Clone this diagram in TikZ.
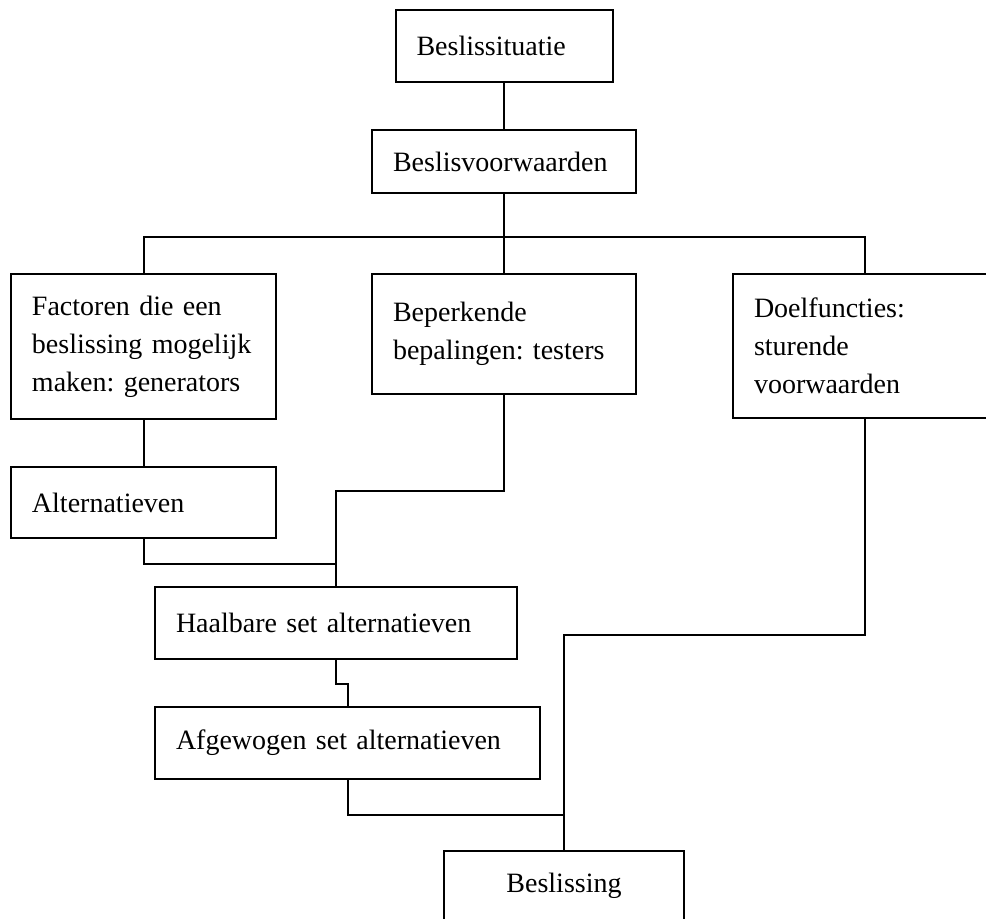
\documentclass[tikz,border=0pt]{standalone}
\usepackage{fontspec}
\setmainfont{Liberation Serif}
\begin{document}
\begin{tikzpicture}[x=0.5pt,y=-0.5pt,
    blok/.style={draw,line width=1pt,anchor=north west,align=left,
      inner xsep=10.5pt,inner ysep=0pt,font=\fontsize{14}{19}\selectfont\frenchspacing},
    lijn/.style={line width=1pt}]
    \useasboundingbox (0,0) rectangle (986,918);

    % Top boxes
    \node[blok,text width=87.5pt,minimum height=36pt] (sit) at (394.5,9) {Beslissituatie};
    \node[blok,text width=111pt,minimum height=31.5pt] (vw) at (371,129) {Beslisvoorwaarden};

    % Conditions
    \node[blok,text width=111.5pt,minimum height=72.5pt] (gen) at (10,273)
        {Factoren die een\\beslissing mogelijk\\maken: generators};
    \node[blok,text width=111pt,minimum height=60pt] (test) at (371,273)
        {Beperkende\\bepalingen: testers};
    \node[blok,text width=111pt,minimum height=72pt] (doel) at (732,273)
        {Doelfuncties:\\sturende\\voorwaarden};

    % Alternatives
    \node[blok,text width=111.5pt,minimum height=35.5pt] (alt) at (10,466) {Alternatieven};
    \node[blok,text width=160pt,minimum height=36pt] (haal) at (154,586) {Haalbare set alternatieven};
    \node[blok,text width=171.5pt,minimum height=36pt] (afg) at (154,706) {Afgewogen set alternatieven};

    % Decision
    \node[blok,align=center,text width=99pt,minimum height=35pt] (bes) at (443,850) {Beslissing};

    % Connectors
    \coordinate (split) at (503,237);
    \draw[lijn] (sit.south) -- (vw.north);
    \draw[lijn] (vw.south) -- (test.north);
    \draw[lijn] (gen.north) |- (split) -| (doel.north);
    \draw[lijn] (gen.south) -- (alt.north);
    \draw[lijn] (test.south) -- ++(0,96) -| (haal.north);
    \draw[lijn] (alt.south) -- ++(0,25) -| (haal.north);
    \draw[lijn] (haal.south) -- ++(0,24) -| (afg.north);
    \draw[lijn] (doel.south) -- ++(0,216) -| (bes.north);
    \draw[lijn] (afg.south) -- ++(0,35) -| (bes.north);
\end{tikzpicture}
\end{document}
